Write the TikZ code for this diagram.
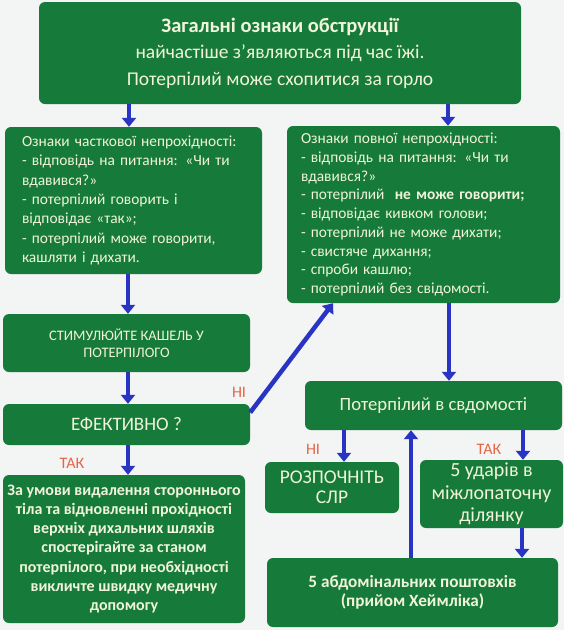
\documentclass[tikz,border=0pt]{standalone}
\usepackage{fontspec}
\setmainfont{Carlito}
\usetikzlibrary{arrows.meta,calc}
\definecolor{boxgreen}{RGB}{22,122,58}
\definecolor{txt}{RGB}{240,244,218}
\definecolor{arrblue}{RGB}{40,52,195}
\definecolor{lbl}{RGB}{230,100,70}
\definecolor{bg}{RGB}{243,244,244}
\begin{document}
\begin{tikzpicture}[x=1pt,y=-1pt,
  box/.style={fill=boxgreen, rounded corners=6pt, text=txt, inner sep=0pt, align=center},
  arr/.style={draw=arrblue, line width=4.5pt, -{Triangle[width=14pt,length=9pt]}},
  lab/.style={text=lbl, font=\fontsize{16}{16}\selectfont}]
\fill[bg] (0,0) rectangle (564,630);
\useasboundingbox (0,0) rectangle (564,630);

\node[box, minimum width=482pt, minimum height=102pt, font=\fontsize{19.5}{26.5}\selectfont] (top) at (280,53)
 {{\fontsize{20.5}{26.5}\selectfont\bfseries Загальні ознаки обструкції}\\ найчастіше з’являються під час їжі.\\ Потерпілий може схопитися за горло};

\node[box, minimum width=257pt, minimum height=147pt, text width=223pt, align=left, font=\fontsize{15.4}{19.3}\selectfont] (part) at (133.5,200.5)
 {Ознаки часткової непрохідності:\\
  - відповідь на питання: «Чи ти\\
  вдавився?»\\
  - потерпілий говорить і\\
  відповідає «так»;\\
  - потерпілий може говорити,\\
  кашляти і дихати.};

\node[box, minimum width=273pt, minimum height=177pt, text width=245pt, align=left, font=\fontsize{15.4}{18.75}\selectfont] (full) at (423.5,214.5)
 {Ознаки повної непрохідності:\\
  - відповідь на питання: «Чи ти\\
  вдавився?»\\
  - потерпілий \ \textbf{не може говорити;}\\
  - відповідає кивком голови;\\
  - потерпілий не може дихати;\\
  - свистяче дихання;\\
  - спроби кашлю;\\
  - потерпілий без свідомості.};

\node[box, minimum width=247pt, minimum height=58pt, font=\fontsize{14.5}{17}\selectfont] (stim) at (126.5,343)
 {СТИМУЛЮЙТЕ КАШЕЛЬ У\\ПОТЕРПІЛОГО};

\node[box, minimum width=247pt, minimum height=41pt, font=\fontsize{19}{20}\selectfont] (eff) at (126.5,424.5)
 {ЕФЕКТИВНО ?};

\node[box, minimum width=257pt, minimum height=49pt, font=\fontsize{18.7}{20}\selectfont] (consc) at (433.5,405.5)
 {Потерпілий в свдомості};

\node[box, minimum width=134pt, minimum height=51pt, font=\fontsize{19.4}{20.5}\selectfont] (cpr) at (332,487.5)
 {РОЗПОЧНІТЬ\\СЛР};

\node[box, minimum width=143pt, minimum height=68pt, font=\fontsize{20}{22.5}\selectfont] (blows) at (491.5,494)
 {5 ударів в\\міжлопаточну\\ділянку};

\node[box, minimum width=291pt, minimum height=69pt, font=\fontsize{17.2}{19.5}\selectfont\bfseries] (heim) at (412.5,592.5)
 {5 абдомінальних поштовхів\\(прийом Хеймліка)};

\node[box, minimum width=242pt, minimum height=148pt, font=\fontsize{16}{19.2}\selectfont\bfseries] (final) at (124,549)
 {За умови видалення стороннього\\
  тіла та відновленні прохідності\\
  верхніх дихальних шляхів\\
  спостерігайте за станом\\
  потерпілого, при необхідності\\
  викличте швидку медичну\\
  допомогу};

% arrows
\draw[arr] ($(top.south -| part.north)+(-4.5,0)$) -- ($(part.north)+(-4.5,0)$);
\draw[arr] ($(top.south -| full.north)+(24.5,0)$) -- ($(full.north)+(24.5,0)$);
\draw[arr] ($(part.south -| stim.north)+(1.5,0)$) -- ($(stim.north)+(1.5,0)$);
\draw[arr] ($(stim.south)+(1.5,0)$) -- ($(eff.north)+(1.5,0)$);
\draw[arr] ($(eff.south -| final.north)+(4,0)$) -- ($(final.north)+(4,0)$);
\draw[arr] ($(eff.east)+(0,-12)$) -- ($(full.south)+(-90.5,0)$);
\draw[arr] ($(full.south -| consc.north)+(15.5,0)$) -- ($(consc.north)+(15.5,0)$);
\draw[arr] ($(consc.south -| cpr.north)+(12,0)$) -- ($(cpr.north)+(12,0)$);
\draw[arr] ($(consc.south -| blows.north)+(31.5,0)$) -- ($(blows.north)+(31.5,0)$);
\draw[arr] ($(blows.south -| heim.north)+(109.5,0)$) -- ($(heim.north)+(109.5,0)$);
\draw[arr] ($(heim.north)+(-1.5,0)$) -- ($(consc.south -| heim.north)+(-1.5,0)$);

% labels
\node[lab] (l1) at (239,392) {НІ};
\node[lab] (l2) at (313,449) {НІ};
\node[lab] (l3) at (489,449) {ТАК};
\node[lab] (l4) at (72,463) {ТАК};
\end{tikzpicture}
\end{document}
